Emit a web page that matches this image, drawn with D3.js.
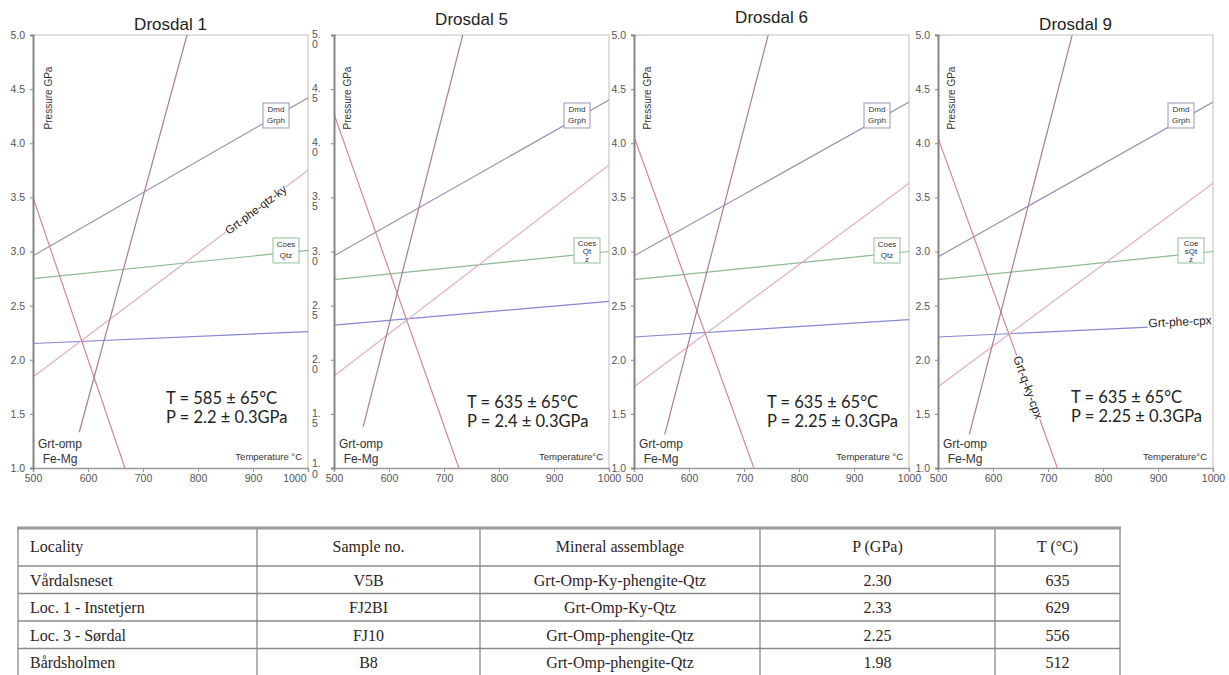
<!DOCTYPE html>
<html>
<head>
<meta charset="utf-8">
<script src="https://cdn.jsdelivr.net/npm/d3@7"></script>
<style>
  body { margin: 0; background: #fff; }
  svg { display: block; }
</style>
</head>
<body>
<svg></svg>
<script>
// ---- data ----
const panelNames = ['Drosdal 1', 'Drosdal 5', 'Drosdal 6', 'Drosdal 9'];
const tempTicks = [500, 600, 700, 800, 900, 1000];
const presTicks = [1.0, 1.5, 2.0, 2.5, 3.0, 3.5, 4.0, 4.5, 5.0];

// reaction lines as [T (°C), P (GPa)] end points, one pair per panel
const dmdGrph     = [[[500, 2.96], [1000, 4.42]], [[500, 2.96], [1000, 4.40]], [[500, 2.96], [1000, 4.38]], [[500, 2.95], [1000, 4.38]]];
const coesQtz     = [[[500, 2.75], [1000, 3.01]], [[500, 2.74], [1000, 3.00]], [[500, 2.74], [1000, 3.00]], [[500, 2.74], [1000, 3.00]]];
const grtPheCpx   = [[[500, 2.15], [1000, 2.26]], [[500, 2.32], [1000, 2.54]], [[500, 2.21], [1000, 2.37]], [[500, 2.21], [1000, 2.33]]];
const grtPheQtzKy = [[[500, 1.84], [1000, 3.75]], [[500, 1.85], [1000, 3.80]], [[500, 1.75], [1000, 3.63]], [[500, 1.75], [1000, 3.63]]];
const grtQKyCpx   = [[[500, 3.50], [667, 1.0]], [[500, 4.27], [727, 1.0]], [[500, 4.06], [718, 1.0]], [[500, 4.05], [717, 1.0]]];
const grtOmpFeMg  = [[[584, 1.33], [780, 5.0]], [[553, 1.38], [734, 5.0]], [[556, 1.31], [744, 5.0]], [[557, 1.31], [744, 5.0]]];

const peakT = [585, 635, 635, 635];
const peakP = [2.2, 2.4, 2.25, 2.25];
const errT = 65;
const errP = 0.3;

const coesText = [['Coes', 'Qtz'], ['Coes', 'Qt', 'z'], ['Coes', 'Qtz'], ['Coe', 'sQt', 'z']];
const tempTitle = ['Temperature °C', 'Temperature°C', 'Temperature °C', 'Temperature°C'];

// table
const tableHeader = ['Locality', 'Sample no.', 'Mineral assemblage', 'P (GPa)', 'T (°C)'];
const localities = ['Vårdalsneset', 'Loc. 1 - Instetjern', 'Loc. 3 - Sørdal', 'Bårdsholmen'];
const samples = ['V5B', 'FJ2BI', 'FJ10', 'B8'];
const assemblages = ['Grt-Omp-Ky-phengite-Qtz', 'Grt-Omp-Ky-Qtz', 'Grt-Omp-phengite-Qtz', 'Grt-Omp-phengite-Qtz'];
const pressures = ['2.30', '2.33', '2.25', '1.98'];
const temps = [635, 629, 556, 512];

// ---- layout ----
const width = 1229, height = 675;
const svg = d3.select('svg').attr('width', width).attr('height', height);

const panelLeft = [33, 334, 634, 938];
const titleY = [30, 25, 23, 30];
const plotTop = 35, plotW = 275, plotH = 433;
const tBase = [404, 408, 408, 403];

const x = d3.scaleLinear().domain([500, 1000]).range([0, plotW]);
const y = d3.scaleLinear().domain([1, 5]).range([plotH, 0]);
const line = d3.line().x(d => x(d[0])).y(d => y(d[1]));

svg.append('defs').append('clipPath').attr('id', 'plotclip')
  .append('rect').attr('width', plotW).attr('height', plotH);

const reactions = [
  { data: dmdGrph, color: '#9590ae' },
  { data: coesQtz, color: '#8cba95' },
  { data: grtPheCpx, color: '#8587cf' },
  { data: grtPheQtzKy, color: '#ddafc6' },
  { data: grtQKyCpx, color: '#cf8a90' },
  { data: grtOmpFeMg, color: '#a87ba0' }
];

const sans = 'Liberation Sans, Arial, sans-serif';

// point on a straight reaction line at temperature t
function along(seg, t) {
  let [a, b] = seg;
  let f = (t - a[0]) / (b[0] - a[0]);
  return [t, a[1] + f * (b[1] - a[1])];
}
function angleOf(seg) {
  let [a, b] = seg;
  return Math.atan2(y(b[1]) - y(a[1]), x(b[0]) - x(a[0])) * 180 / Math.PI;
}

// label with a white background, centred on a point, rotated
function lineLabel(g, text, px, py, angle, size) {
  let lg = g.append('g').attr('transform', `translate(${px},${py}) rotate(${angle})`);
  let bg = lg.append('rect').attr('fill', '#fff');
  let t = lg.append('text')
    .attr('text-anchor', 'middle')
    .attr('dy', '0.35em')
    .style('font-family', sans)
    .style('font-size', size + 'px')
    .style('fill', '#222')
    .text(text);
  let bb = t.node().getBBox();
  bg.attr('x', bb.x - 1).attr('y', bb.y + 1).attr('width', bb.width + 2).attr('height', bb.height - 2);
}

function boxLabel(g, lines, bx, by, color) {
  g.append('rect')
    .attr('x', bx).attr('y', by).attr('width', 26).attr('height', 25)
    .attr('fill', '#fff').attr('stroke', color).attr('stroke-width', 1);
  let offs = lines.length === 3 ? [5, 13, 21] : [6, 17];
  lines.forEach((s, i) => {
    g.append('text')
      .attr('x', bx + 13).attr('y', by + offs[i])
      .attr('dy', '0.35em')
      .attr('text-anchor', 'middle')
      .style('font-family', sans)
      .style('font-size', '8px')
      .style('fill', '#333')
      .text(s);
  });
}

panelNames.forEach((name, i) => {
  let g = svg.append('g').attr('transform', `translate(${panelLeft[i]},${plotTop})`);

  // title
  svg.append('text')
    .attr('x', panelLeft[i] + plotW / 2).attr('y', titleY[i])
    .attr('text-anchor', 'middle')
    .style('font-family', sans).style('font-size', '17px').style('fill', '#222')
    .text(name);

  // frame: light top/right border
  g.append('path')
    .attr('d', `M0,0H${plotW}V${plotH}`)
    .attr('fill', 'none').attr('stroke', '#d4d4d4').attr('stroke-width', 1.5);

  // reaction lines
  let lines = g.append('g').attr('clip-path', 'url(#plotclip)');
  reactions.forEach(r => {
    lines.append('path')
      .attr('d', line(r.data[i]))
      .attr('fill', 'none')
      .attr('stroke', r.color)
      .attr('stroke-width', 1.2);
  });

  // bottom axis
  let xAxis = g.append('g').attr('transform', `translate(0,${plotH})`)
    .call(d3.axisBottom(x).tickValues(tempTicks).tickFormat(d3.format('d')).tickSize(4).tickPadding(3));
  xAxis.select('.domain').attr('stroke', '#9a9a9a').attr('stroke-width', 1.5);
  xAxis.selectAll('.tick line').attr('stroke', '#9a9a9a');
  xAxis.selectAll('.tick text')
    .style('font-family', sans).style('font-size', '10.5px').style('fill', '#555');
  if (i === 0) {
    // keep the last label clear of the squeezed labels of the next panel
    xAxis.selectAll('.tick text').filter(d => d === 1000)
      .attr('text-anchor', 'end').attr('x', -2);
  }

  // left axis
  let yAxis = g.append('g')
    .call(d3.axisLeft(y).tickValues(presTicks).tickFormat(d3.format('.1f')).tickSize(3).tickPadding(5));
  yAxis.select('.domain').attr('stroke', '#858585').attr('stroke-width', 2);
  yAxis.selectAll('.tick line').attr('stroke', '#858585');
  yAxis.selectAll('.tick text')
    .style('font-family', sans).style('font-size', '10.5px').style('fill', '#555');
  if (i === 1) {
    // squeezed labels wrap onto two lines in this panel
    yAxis.selectAll('.tick text').each(function (d) {
      let s = d3.format('.1f')(d);
      let t = d3.select(this).text(null).attr('text-anchor', 'start').attr('x', -22).attr('dy', null);
      t.append('tspan').attr('x', -22).attr('y', d === 1 ? -2 : 2.5).text(s.slice(0, 2));
      t.append('tspan').attr('x', -22).attr('y', d === 1 ? 9 : 12.5).text(s.slice(2));
    });
  }

  // axis titles
  g.append('text')
    .attr('transform', `translate(${i === 0 ? 15 : 13},63) rotate(-90)`)
    .attr('dy', '0.35em')
    .attr('text-anchor', 'middle')
    .style('font-family', sans).style('font-size', '10px').style('fill', '#333')
    .text('Pressure GPa');
  g.append('text')
    .attr('x', plotW - 6).attr('y', plotH - 8)
    .attr('text-anchor', 'end')
    .style('font-family', sans).style('font-size', '9.5px').style('fill', '#333')
    .text(tempTitle[i]);

  // reaction labels
  boxLabel(g, ['Dmd', 'Grph'], 230, 68, '#9a96b4');
  boxLabel(g, coesText[i], 240, 203, '#8fbf98');

  g.append('text')
    .attr('x', 27).attr('y', 413)
    .attr('text-anchor', 'middle')
    .style('font-family', sans).style('font-size', '12px').style('fill', '#333')
    .text('Grt-omp');
  g.append('text')
    .attr('x', 27).attr('y', 428)
    .attr('text-anchor', 'middle')
    .style('font-family', sans).style('font-size', '12px').style('fill', '#333')
    .text('Fe-Mg');

  if (i === 0) {
    let p = along(grtPheQtzKy[0], 905);
    lineLabel(g, 'Grt-phe-qtz-ky', x(p[0]), y(p[1]), angleOf(grtPheQtzKy[0]), 11.5);
  }
  if (i === 3) {
    let p = along(grtQKyCpx[3], 664);
    lineLabel(g, 'Grt-q-ky-cpx', x(p[0]), y(p[1]), angleOf(grtQKyCpx[3]), 12);
    let q = along(grtPheCpx[3], 940);
    lineLabel(g, 'Grt-phe-cpx', x(q[0]), y(q[1]) - 4, angleOf(grtPheCpx[3]), 12);
  }

  // peak estimate
  let ann = g.append('text')
    .style('font-family', 'Lato, Open Sans, sans-serif')
    .style('font-size', '16.5px')
    .style('fill', '#222');
  ann.append('tspan').attr('x', 133).attr('y', tBase[i] - plotTop)
    .text(`T = ${peakT[i]} ± ${errT}°C`);
  ann.append('tspan').attr('x', 133).attr('y', tBase[i] - plotTop + 19)
    .text(`P = ${peakP[i]} ± ${errP}GPa`);
});

// ---- table ----
const colEdges = [18, 257, 480, 760, 995, 1120];
const tableTop = 528, headH = 38, rowH = 27.5;
const rows = localities.map((loc, i) => [loc, samples[i], assemblages[i], pressures[i], String(temps[i])]);

const tbl = svg.append('g');
const tableBottom = tableTop + headH + rowH * rows.length;
const rowLines = [tableTop + headH].concat(rows.map((r, i) => tableTop + headH + rowH * (i + 1)));

tbl.selectAll('line.hrow')
  .data(rowLines)
  .enter().append('line')
  .attr('x1', colEdges[0]).attr('x2', colEdges[5])
  .attr('y1', d => d).attr('y2', d => d)
  .attr('stroke', '#8a8a8a').attr('stroke-width', 1.3);

tbl.selectAll('line.vcol')
  .data(colEdges)
  .enter().append('line')
  .attr('x1', d => d).attr('x2', d => d)
  .attr('y1', tableTop).attr('y2', tableBottom)
  .attr('stroke', '#8a8a8a').attr('stroke-width', 1.3);

tbl.append('line')
  .attr('x1', colEdges[0] - 1).attr('x2', colEdges[5] + 1)
  .attr('y1', tableTop).attr('y2', tableTop)
  .attr('stroke', '#999').attr('stroke-width', 3);

function cellX(c) {
  return c === 0 ? colEdges[0] + 12 : (colEdges[c] + colEdges[c + 1]) / 2;
}

const serif = 'Liberation Serif, Times New Roman, serif';
tbl.selectAll('text.head')
  .data(tableHeader)
  .enter().append('text')
  .attr('x', (d, c) => cellX(c))
  .attr('y', tableTop + headH / 2 + 5)
  .attr('text-anchor', (d, c) => c === 0 ? 'start' : 'middle')
  .style('font-family', serif).style('font-size', '16px').style('fill', '#2e2424')
  .text(d => d);

rows.forEach((r, ri) => {
  tbl.selectAll(null)
    .data(r)
    .enter().append('text')
    .attr('x', (d, c) => cellX(c))
    .attr('y', tableTop + headH + rowH * ri + rowH / 2 + 6)
    .attr('text-anchor', (d, c) => c === 0 ? 'start' : 'middle')
    .style('font-family', serif).style('font-size', '16px').style('fill', '#2e2424')
    .text(d => d);
});
</script>
</body>
</html>
